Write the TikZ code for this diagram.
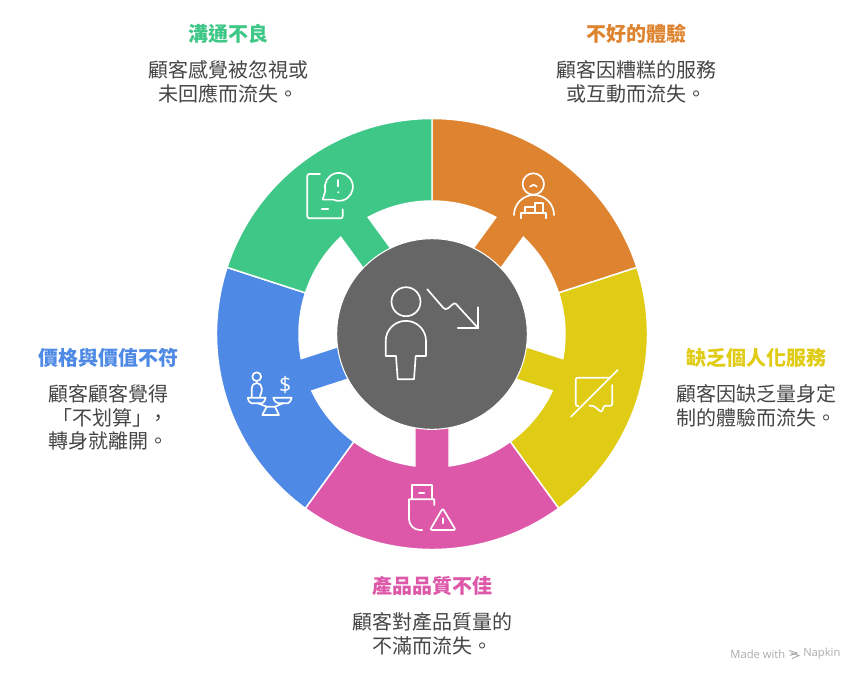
\documentclass[tikz,border=0pt]{standalone}
\usepackage{fontspec}
\newfontfamily\cjk{Noto Sans CJK TC}
\newfontfamily\markfont{Open Sans}
\definecolor{greenpart}{HTML}{3EC787}
\definecolor{orangepart}{HTML}{DE8431}
\definecolor{yellowpart}{HTML}{E0CB15}
\definecolor{pinkpart}{HTML}{DD58A9}
\definecolor{bluepart}{HTML}{4D89E5}
\definecolor{hubgray}{HTML}{666666}
\definecolor{bodygray}{HTML}{454545}
\definecolor{markgray}{HTML}{ABABAB}
\tikzset{
    part/.style={draw=white, line width=1.1pt, line join=miter},
    icon/.style={draw=white, line width=1.25pt, line join=round, line cap=round},
    title/.style={font=\cjk\bfseries\fontsize{15}{18}\selectfont, align=center},
    body/.style={font=\cjk\fontsize{15}{17.6}\selectfont, text=bodygray, align=center},
}

\begin{document}
\begin{tikzpicture}[x=0.75pt, y=-0.75pt]
    \useasboundingbox (0,0) rectangle (864,682);
    \foreach \ang/\col in {54/orangepart, -18/yellowpart, -90/pinkpart, -162/bluepart, 126/greenpart} {
        \filldraw[part, fill=\col, shift={(432,334)}, rotate=\ang]
            (36:215.5) arc (36:-36:215.5) -- (-36:133) arc (-36:-7.34:133)
            -- (90,-17) -- (90,17) -- (7.34:133) arc (7.34:36:133) -- cycle;
    }
    \node[circle, fill=hubgray, draw=white, line width=0.8pt, minimum size=143pt, inner sep=0pt] (hub) at (432,334) {};

    \draw[icon] (406,301.7) circle (14.5);
    \draw[icon] (385.7,356) -- (385.7,341) arc (180:360:20.15) -- (426,356) -- (415.7,356)
        -- (414,379.3) -- (397.7,379.3) -- (396,356) -- cycle;
    \draw[icon] (427.3,289.3) -- (443,307.5) .. controls (444.5,309.5) and (446,309.5) .. (448,308.3)
        -- (452.5,304.5) .. controls (454,303) and (455,303) .. (456,304) -- (478.3,328.3);
    \draw[icon] (478.3,307.3) -- (478.3,328.3) -- (457.7,328.3);

    \draw[icon, rounded corners=1.5pt] (320,174) -- (307.3,174) -- (307.3,218.3) -- (342.7,218.3) -- (342.7,209.3);
    \draw[icon] (321.7,209.3) -- (328.3,209.3);
    \draw[icon] (334,199.6) -- (322.7,199.6) -- (325.4,190.5) arc (-195:110:14) -- cycle;
    \draw[icon] (338.3,180) -- (338.3,186.5);
    \fill[white] (338.3,192.3) circle (1.1);

    \draw[icon] (533.3,184) circle (10.7);
    \draw[icon] (530,186.7) .. controls (531.5,184.3) and (535,184.3) .. (536.7,186.7);
    \draw[icon] (514,215) arc (180:360:20);
    \draw[icon] (520.7,218.3) -- (520.7,213.3) -- (546,213.3) -- (546,218.3);
    \draw[icon] (525,213.3) -- (525,207.3) -- (535,207.3) -- (535,213.3);
    \draw[icon] (535,207.3) -- (535,203.3) -- (543.3,203.3) -- (543.3,213.3);

    \draw[icon, rounded corners=1.5pt] (610,377.7) -- (575.7,377.7) -- (575.7,406) -- (578.5,406);
    \draw[icon, rounded corners=1pt] (612.3,385) -- (612.3,405.7) -- (604,405.7) -- (601.7,412.3) -- (593.3,405.7) -- (589.3,405.7);
    \draw[icon] (617.7,370) -- (571,416.7);

    \draw[icon] (412.3,499.3) -- (412.3,485) -- (431.7,485) -- (431.7,499.3);
    \draw[icon] (419,492.7) -- (424.3,492.7);
    \draw[icon] (434.3,505) -- (434.3,499.3) -- (409,499.3) -- (409,519) arc (180:90:11) -- (422.3,530);
    \draw[icon, rounded corners=1.5pt] (442.7,508.3) -- (455.7,530) -- (430,530) -- cycle;
    \draw[icon] (442.7,518.3) -- (442.7,523.3);

    \draw[icon] (256.7,376.7) circle (4.4);
    \draw[icon] (251.7,396.7) -- (251.7,388) arc (180:360:5) -- (261.7,391) -- (260,396.7);
    \draw[icon] (247.7,397.7) -- (265.7,397.7) .. controls (265,401) and (263,403.3) .. (261.7,403.3) -- (251.7,403.3) .. controls (250,403.3) and (248.5,401) .. (247.7,397.7);
    \draw[icon] (273.3,397.7) -- (291.7,397.7) .. controls (291,401) and (289,403.3) .. (287.7,403.3) -- (278.3,403.3) .. controls (276.5,403.3) and (274,401) .. (273.3,397.7);
    \draw[icon] (258,403.3) -- (266.7,406.7) -- (275,406.7) -- (283,403.3);
    \draw[icon] (266.7,406.7) -- (262.3,415) -- (279,415) -- (275,406.7);
    \node[text=white, font=\markfont\fontsize{16}{18}\selectfont, inner sep=0pt] (dollar) at (285.3,385) {\$};

    \node[title, text=greenpart] (goutong) at (228,34) {溝通不良};
    \node[body] (goutongtext) at (228,82) {顧客感覺被忽視或\\未回應而流失。};
    \node[title, text=orangepart] (tiyan) at (636,34) {不好的體驗};
    \node[body] (tiyantext) at (636,82) {顧客因糟糕的服務\\或互動而流失。};
    \node[title, text=yellowpart] (gexing) at (756,358) {缺乏個人化服務};
    \node[body] (gexingtext) at (756,406) {顧客因缺乏量身定\\制的體驗而流失。};
    \node[title, text=pinkpart] (chanpin) at (432,586) {產品品質不佳};
    \node[body] (chanpintext) at (432,634) {顧客對產品質量的\\不滿而流失。};
    \node[title, text=bluepart] (jiage) at (108,358) {價格與價值不符};
    \node[body] (jiagetext) at (108,417.5) {顧客顧客覺得\\\kern3pt「不划算」\kern-3pt，\\轉身就離開。};

    \node[text=markgray, font=\markfont\fontsize{8.4}{10}\selectfont, inner sep=0pt, anchor=east] (made) at (785.5,654) {Made with};
    \node[text=markgray, font=\markfont\fontsize{8.4}{10}\selectfont, inner sep=0pt, anchor=west] (napkin) at (803,654) {Napkin};
    \draw[markgray, line width=0.7pt] (789,650.5) -- (797,653) -- (790,655.5) (791,653) -- (799,655.5) -- (792,658.5);
\end{tikzpicture}
\end{document}
